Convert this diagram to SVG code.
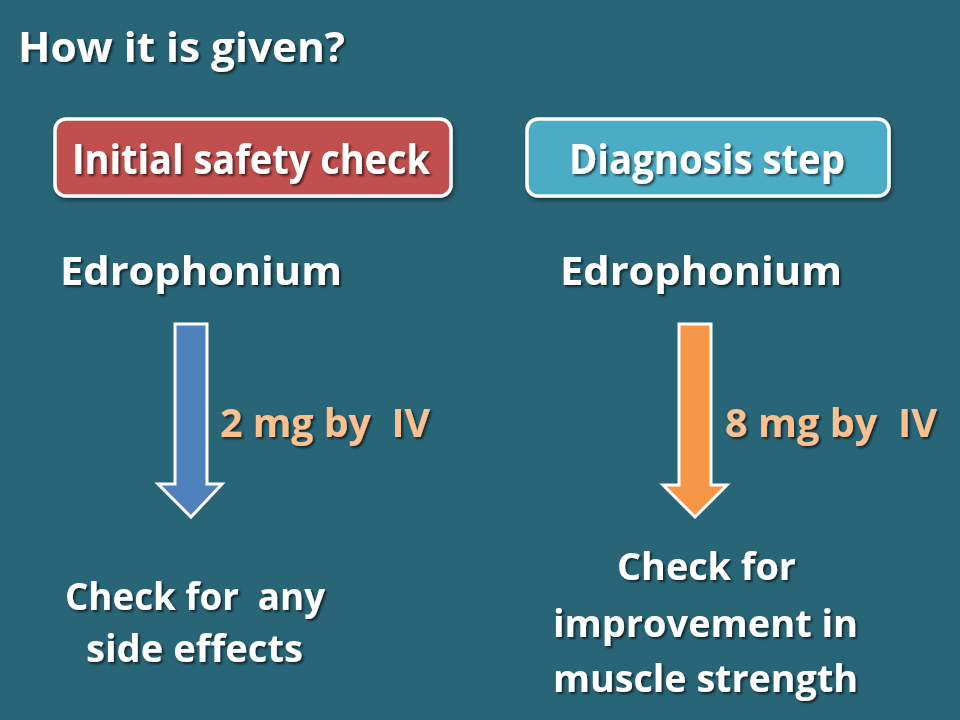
<svg xmlns="http://www.w3.org/2000/svg" width="960" height="720" viewBox="0 0 960 720">
<defs>
<filter id="sh" x="-10%" y="-20%" width="120%" height="140%">
<feDropShadow dx="2" dy="2" stdDeviation="1.2" flood-color="#000" flood-opacity="0.6"/>
</filter>
<filter id="bsh" x="-10%" y="-20%" width="120%" height="150%">
<feDropShadow dx="2" dy="3" stdDeviation="2" flood-color="#000" flood-opacity="0.4"/>
</filter>
<style>
text{font-family:"Open Sans","Lato","Liberation Sans",sans-serif;font-weight:bold;filter:url(#sh);white-space:pre}
.w{fill:#ffffff}
.p{fill:#fac090}
.box{stroke:#ffffff;stroke-width:3.5;filter:url(#bsh)}
.arr{stroke:#ffffff;stroke-width:3}
</style>
</defs>
<rect width="960" height="720" fill="#286577"/>
<g id="title"><text class="w" x="18" y="62" font-size="41" textLength="327" lengthAdjust="spacingAndGlyphs">How it is given?</text></g>
<g id="safety-box">
<rect class="box" x="55" y="119" width="396" height="77" rx="11" fill="#c0504d"/>
<text class="w" x="72" y="174" font-size="41" textLength="358" lengthAdjust="spacingAndGlyphs">Initial safety check</text>
</g>
<g id="diagnosis-box">
<rect class="box" x="527" y="119" width="362" height="77" rx="11" fill="#4bacc6"/>
<text class="w" x="569" y="174" font-size="41" textLength="276" lengthAdjust="spacingAndGlyphs">Diagnosis step</text>
</g>
<g id="edro-left"><text class="w" x="60" y="285" font-size="40" textLength="282" lengthAdjust="spacingAndGlyphs">Edrophonium</text></g>
<g id="edro-right"><text class="w" x="560" y="285" font-size="40" textLength="282" lengthAdjust="spacingAndGlyphs">Edrophonium</text></g>
<g id="connectors">
<polygon class="arr" points="175,324 207,324 207,484 222,484 191,517 158,484 175,484" fill="#4f81bd"/>
<polygon class="arr" points="679,324 711,324 711,485 727,485 695,517 663,485 679,485" fill="#f79646"/>
</g>
<g id="dose-left"><text class="p" x="220" y="437" font-size="40" textLength="210" lengthAdjust="spacingAndGlyphs" xml:space="preserve">2 mg by  IV</text></g>
<g id="dose-right"><text class="p" x="725" y="437" font-size="40" textLength="212" lengthAdjust="spacingAndGlyphs" xml:space="preserve">8 mg by  IV</text></g>
<g id="result-left">
<text class="w" x="65" y="610" font-size="38" textLength="260" lengthAdjust="spacingAndGlyphs" xml:space="preserve">Check for  any</text>
<text class="w" x="86" y="662" font-size="38" textLength="217" lengthAdjust="spacingAndGlyphs">side effects</text>
</g>
<g id="result-right">
<text class="w" x="617" y="580" font-size="38" textLength="179" lengthAdjust="spacingAndGlyphs">Check for</text>
<text class="w" x="553" y="637" font-size="38" textLength="305" lengthAdjust="spacingAndGlyphs">improvement in</text>
<text class="w" x="553" y="692" font-size="38" textLength="305" lengthAdjust="spacingAndGlyphs">muscle strength</text>
</g>
</svg>
